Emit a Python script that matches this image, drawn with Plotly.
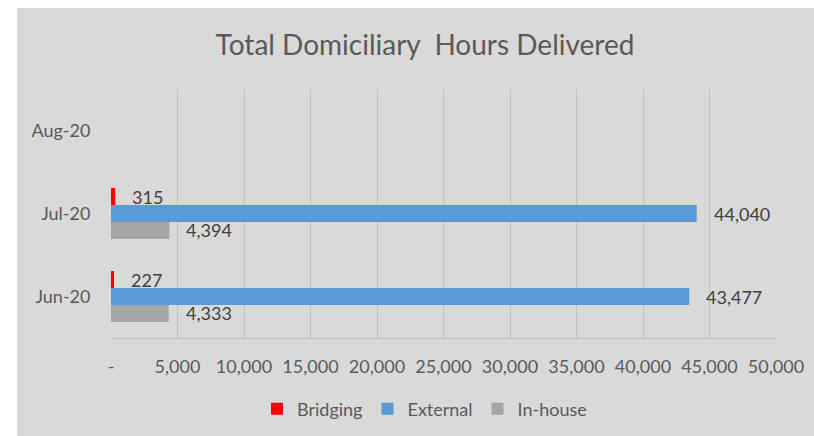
import plotly.graph_objects as go

months = ["Jun-20", "Jul-20", "Aug-20"]
bridging = [227, 315, None]
external = [43477, 44040, None]
inhouse = [4333, 4394, None]

tick_vals = [0, 5000, 10000, 15000, 20000, 25000, 30000, 35000, 40000, 45000, 50000]
tick_text = ["-"] + [f"{v:,}" for v in tick_vals[1:]]

FONT = "Lato, Carlito, sans-serif"
TXT = "#595959"
BG = "#d9d9d9"

# plot area in window pixels
W, H = 814, 436
L, R, T, B = 111, 38, 89, 98
pw, ph = W - L - R, H - T - B
bargap = 0.386

series = [
    ("In-house", inhouse, "#a5a5a5"),
    ("External", external, "#5b9bd5"),
    ("Bridging", bridging, "#ff0000"),
]

fig = go.Figure()
for name, vals, col in series:
    fig.add_trace(go.Bar(
        y=months, x=vals, name=name, orientation="h",
        marker=dict(color=col, line_width=0),
    ))

# data labels, outside end of each bar
n = len(series)
bw = (1 - bargap) / n
annots = []
for k, (name, vals, col) in enumerate(series):
    off = (k - (n - 1) / 2) * bw
    for i, v in enumerate(vals):
        if v is None:
            continue
        annots.append(dict(
            x=v, y=i + off, xref="x", yref="y", text=f"{v:,}",
            showarrow=False, xanchor="left", yanchor="middle", xshift=15,
            font=dict(family=FONT, size=18, color="#404040"),
        ))

# white strips on the left and top of the grey chart area
white = dict(type="rect", xref="paper", yref="paper", layer="below",
             fillcolor="white", line_width=0)
strips = [
    dict(white, x0=-(L + 5) / pw, x1=(17 - L) / pw,
         y0=-(B + 5) / ph, y1=(H - B + 5) / ph),
    dict(white, x0=-(L + 5) / pw, x1=(W - L + 5) / pw,
         y0=(H - 8 - B) / ph, y1=(H - B + 5) / ph),
]

fig.update_layout(
    width=W, height=H,
    margin=dict(l=L, r=R, t=T, b=B, autoexpand=False),
    paper_bgcolor=BG,
    plot_bgcolor="rgba(0,0,0,0)",
    barmode="group",
    bargap=bargap,
    bargroupgap=0,
    font=dict(family=FONT, size=18, color=TXT),
    title=dict(
        text="Total Domiciliary  Hours Delivered",
        xref="container", yref="container",
        x=425 / W, xanchor="center", y=1 - 45 / H, yanchor="middle",
        font=dict(family=FONT, size=28, color=TXT),
    ),
    legend=dict(
        orientation="h", traceorder="reversed",
        x=(257 - L) / pw, xanchor="left",
        y=(H - B - 409) / ph, yanchor="middle",
        font=dict(family=FONT, size=18, color=TXT),
        bgcolor="rgba(0,0,0,0)",
        itemwidth=30,
    ),
    annotations=annots,
    shapes=strips,
)

fig.update_xaxes(
    range=[0, 50000], tickvals=tick_vals, ticktext=tick_text,
    showgrid=True, gridcolor="#bfbfbf", gridwidth=1, zeroline=False,
    showline=True, linecolor="#bfbfbf", linewidth=1,
    ticks="outside", ticklen=12, tickcolor="rgba(0,0,0,0)",
    tickfont=dict(family=FONT, size=18, color=TXT),
)
fig.update_yaxes(
    type="category", categoryorder="array", categoryarray=months,
    range=[-0.5, 2.5], showgrid=False, zeroline=False, showline=False,
    ticks="outside", ticklen=16, tickcolor="rgba(0,0,0,0)",
    tickfont=dict(family=FONT, size=18, color=TXT),
)

# drop the default page margin so the figure fills the window exactly
fig.write_html(
    "out.html",
    config={"displayModeBar": False},
    post_script=(
        "document.body.style.margin='0';"
        "document.body.style.overflow='hidden';"
        "document.documentElement.style.overflow='hidden';"
    ),
)
